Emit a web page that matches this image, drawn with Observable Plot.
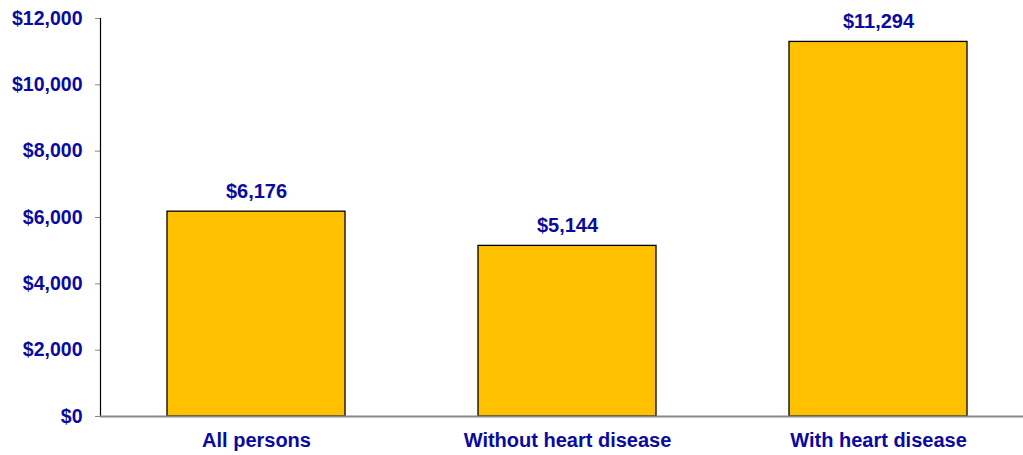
<!DOCTYPE html>
<html>
<head>
<meta charset="utf-8">
<script src="https://cdn.jsdelivr.net/npm/d3@7"></script>
<script src="https://cdn.jsdelivr.net/npm/@observablehq/plot@0.6"></script>
<style>
  html, body { margin: 0; padding: 0; background: #fff; }
  #chart svg { display: block; }
</style>
</head>
<body>
<div id="chart"></div>
<script>
const categories = ["All persons", "Without heart disease", "With heart disease"];
const values = [6176, 5144, 11294];
const yTicks = [0, 2000, 4000, 6000, 8000, 10000, 12000];

const data = categories.map((c, i) => ({category: c, value: values[i]}));
const blue = "#0A0AA0";
const money = d => "$" + d3.format(",")(d);

const chart = Plot.plot({
  width: 1023,
  height: 455,
  marginTop: 18,
  marginBottom: 39,
  marginLeft: 100,
  marginRight: 0,
  style: {fontFamily: "Arial, 'Liberation Sans', sans-serif", background: "#fff"},
  x: {domain: categories, range: [100, 1033], paddingInner: 0.428, paddingOuter: 0.214, label: null},
  y: {domain: [0, 12000], label: null},
  marks: [
    Plot.barY(data, {x: "category", y: "value", fill: "#FFC000", stroke: "#000", strokeWidth: 1.3}),
    Plot.axisY(yTicks, {
      tickSize: 5, tickPadding: 13, stroke: "#888",
      tickFormat: money, fill: blue, fontSize: 19.5, fontWeight: "bold"
    }),
    Plot.frame({anchor: "left", stroke: "#000", strokeWidth: 1.2}),
    Plot.ruleY([0], {stroke: "#888", strokeWidth: 2}),
    Plot.axisX({tickSize: 0, tickPadding: 16, fill: blue, fontSize: 20, fontWeight: "bold"}),
    Plot.text(data, {x: "category", y: "value", text: d => money(d.value), lineAnchor: "bottom", dy: -14, fill: blue, fontSize: 20, fontWeight: "bold"})
  ]
});
document.getElementById("chart").appendChild(chart);
</script>
</body>
</html>
